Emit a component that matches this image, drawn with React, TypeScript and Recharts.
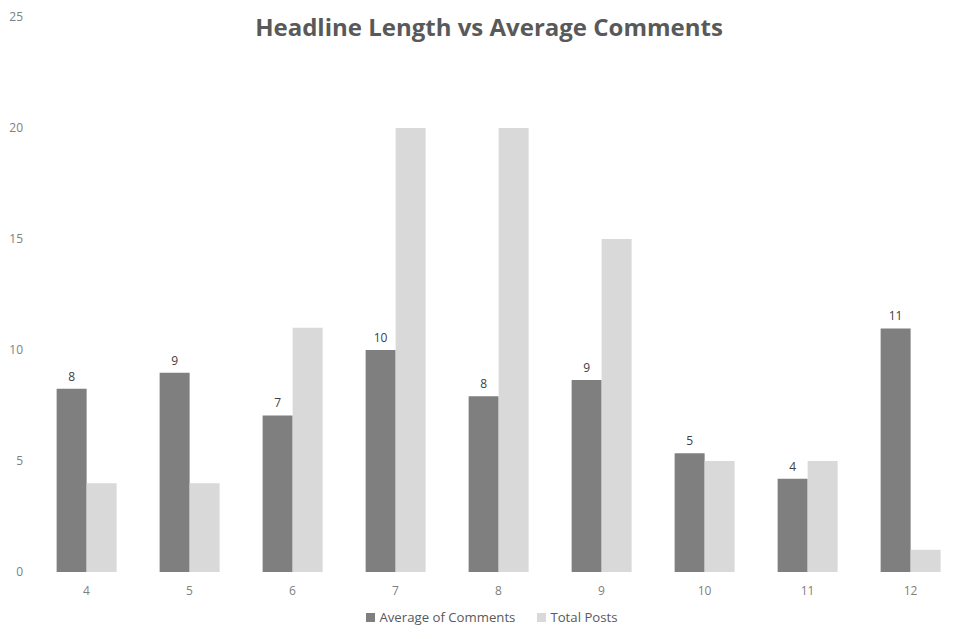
import React from 'react';
import { BarChart, Bar, XAxis, YAxis, Legend, LabelList } from 'recharts';

const categories = ['4', '5', '6', '7', '8', '9', '10', '11', '12'];
const avgComments = [8.25, 8.98, 7.05, 10.0, 7.92, 8.65, 5.35, 4.2, 10.97];
const totalPosts = [4, 4, 11, 20, 20, 15, 5, 5, 1];
const yTicks = [0, 5, 10, 15, 20, 25];

const data = categories.map((c, i) => ({
  name: c,
  avg: avgComments[i],
  total: totalPosts[i],
}));

const FONT = '"Open Sans", "Noto Sans", sans-serif';

export default function App() {
  return (
    <div style={{ position: 'absolute', left: 0, top: 0, width: 978, height: 639, background: '#fff', fontFamily: FONT }}>
      <div
        style={{
          position: 'absolute',
          left: 0,
          top: 10,
          width: 978,
          textAlign: 'center',
          fontSize: 24,
          fontWeight: 700,
          color: '#595959',
          fontFamily: FONT,
        }}
      >
        Headline Length vs Average Comments
      </div>
      <BarChart
        width={978}
        height={639}
        data={data}
        margin={{ top: 17, right: 16, bottom: 10, left: 0 }}
        barCategoryGap="21%"
        barGap={0}
      >
        <YAxis
          domain={[0, 25]}
          ticks={yTicks}
          width={35}
          axisLine={false}
          tickLine={false}
          tickMargin={6}
          tick={{ fill: '#808080', fontSize: 12, fontFamily: FONT }}
        />
        <XAxis
          dataKey="name"
          axisLine={false}
          tickLine={false}
          tickMargin={8}
          height={33}
          tick={{ fill: '#808080', fontSize: 12, fontFamily: FONT }}
        />
        <Legend
          verticalAlign="bottom"
          align="center"
          iconType="square"
          iconSize={9}
          height={24}
          wrapperStyle={{ paddingLeft: 44, boxSizing: 'border-box' }}
          formatter={(v: string) => (
            <span style={{ color: '#595959', fontSize: 13.2, fontFamily: FONT, marginRight: 12 }}>{v}</span>
          )}
        />
        <Bar dataKey="avg" name="Average of Comments" fill="#7f7f7f" isAnimationActive={false}>
          <LabelList
            dataKey="avg"
            position="top"
            offset={8}
            fill="#404040"
            formatter={(v: number) => Math.round(v)}
            style={{ fill: '#404040', fontSize: 12, fontFamily: FONT }}
          />
        </Bar>
        <Bar dataKey="total" name="Total Posts" fill="#d9d9d9" isAnimationActive={false} />
      </BarChart>
    </div>
  );
}
